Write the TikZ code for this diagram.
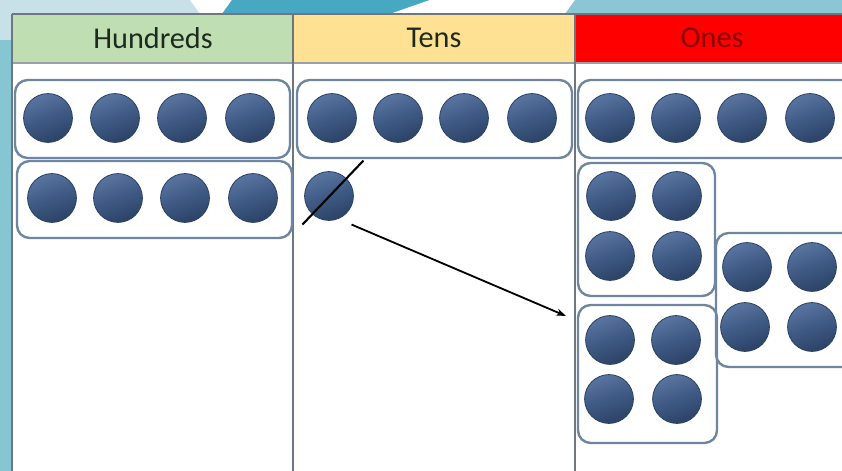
\documentclass[tikz,border=0pt]{standalone}
\usepackage{fontspec}
\setmainfont{Carlito}
\usetikzlibrary{math,arrows.meta}

\definecolor{counterblue}{HTML}{3E5A84}
\definecolor{counterdark}{HTML}{2C4266}
\definecolor{counterlight}{HTML}{5874A0}
\definecolor{boxline}{HTML}{6F86A0}
\definecolor{colline}{HTML}{6E7780}
\definecolor{hundredsgreen}{HTML}{BFDEB2}
\definecolor{tensyellow}{HTML}{FFE193}
\definecolor{onesred}{HTML}{FF0000}
\definecolor{onestext}{HTML}{8A0000}
\definecolor{headtext}{HTML}{1E2A1E}
\definecolor{bandgrey}{HTML}{C8E0E7}
\definecolor{bandteal}{HTML}{47A8C2}
\definecolor{bandlight}{HTML}{8CC6D4}
\definecolor{stripteal}{HTML}{86C6D3}

\tikzset{
  counter/.style={circle, draw=counterdark, line width=0.6pt,
    top color=counterlight, bottom color=counterdark, middle color=counterblue,
    shading angle=20, minimum size=1.22cm, inner sep=0pt},
  groupbox/.style={draw=boxline, line width=1.7pt, rounded corners=9pt},
  colhead/.style={font=\fontsize{21.5}{24}\selectfont, text=headtext}
}

\begin{document}
\begin{tikzpicture}[x=0.025cm, y=-0.025cm]
  \tikzmath{\w = 842; \h = 471;}
  \useasboundingbox (0, 0) rectangle (\w, \h);
  \clip (0, 0) rectangle (\w, \h);

  % background band and strip
  \fill[white] (0, 0) rectangle (\w, \h);
  \fill[bandgrey] (0, 0) rectangle (\w, 14);
  \fill[stripteal] (0, 0) rectangle (12, \h);
  \fill[bandgrey] (0, 0) rectangle (12, 40);
  \fill[white] (190, 0) -- (232, 0) -- (222, 14) -- (200, 14) -- cycle;
  \fill[bandteal] (232, 0) -- (430, 0) -- (390, 14) -- (222, 14) -- cycle;
  \fill[white] (430, 0) -- (575, 0) -- (565, 14) -- (390, 14) -- cycle;
  \fill[bandlight] (575, 0) -- (\w, 0) -- (\w, 14) -- (565, 14) -- cycle;

  % headers
  \fill[hundredsgreen] (12, 14) rectangle (293, 62);
  \fill[tensyellow] (293, 14) rectangle (575, 62);
  \fill[onesred] (575, 14) rectangle (\w, 62);
  \node[colhead] (hundreds) at (153, 38) {Hundreds};
  \node[colhead] (tens) at (434, 38) {Tens};
  \node[colhead, text=onestext] (ones) at (712, 38) {Ones};

  % table lines
  \draw[colline, line width=1.2pt] (12, 14) -- (\w, 14);
  \draw[colline!70, line width=1.6pt] (12, 63) -- (\w, 63);
  \draw[colline, line width=1.3pt] (12, 14) -- (12, \h);
  \draw[colline, line width=1pt] (293, 14) -- (293, \h);
  \draw[colline, line width=1pt] (575, 14) -- (575, \h);

  % hundreds
  \draw[groupbox] (15, 80) rectangle (290, 158);
  \draw[groupbox] (17, 161) rectangle (292, 238);
  \foreach \x [count=\i] in {48, 115, 182, 250}
    \node[counter] (h\i) at (\x, 118) {};
  \foreach \x [count=\i from 5] in {52, 118, 185, 253}
    \node[counter] (h\i) at (\x, 198) {};

  % tens
  \draw[groupbox] (297, 80) rectangle (572, 158);
  \foreach \x [count=\i] in {332, 398, 464, 532}
    \node[counter] (t\i) at (\x, 118) {};
  \node[counter] (t5) at (329, 196) {};
  \draw[black, line width=1.5pt] (t5.south west) ++(-9, 11) -- ++(61, -64);

  % ones
  \draw[groupbox] (578, 80) rectangle (860, 158);
  \foreach \x [count=\i] in {610, 676, 742, 810}
    \node[counter] (o\i) at (\x, 118) {};
  \draw[groupbox] (578, 163) rectangle (715, 296);
  \node[counter] (o5) at (611, 196) {};
  \node[counter] (o6) at (677, 196) {};
  \node[counter] (o7) at (610, 256) {};
  \node[counter] (o8) at (677, 256) {};
  \draw[groupbox] (578, 305) rectangle (717, 443);
  \node[counter] (o9) at (610, 340) {};
  \node[counter] (o10) at (676, 340) {};
  \node[counter] (o11) at (609, 399) {};
  \node[counter] (o12) at (677, 399) {};
  \draw[groupbox] (716, 233) rectangle (860, 367);
  \node[counter] (o13) at (747, 267) {};
  \node[counter] (o14) at (812, 267) {};
  \node[counter] (o15) at (745, 327) {};
  \node[counter] (o16) at (812, 327) {};

  % exchange arrow
  \coordinate (exchange) at (566, 316);
  \draw[black, line width=1.3pt, -{Stealth[length=7pt, width=5pt]}]
    (t5.south east) ++(5, 11) -- (exchange);
\end{tikzpicture}
\end{document}
